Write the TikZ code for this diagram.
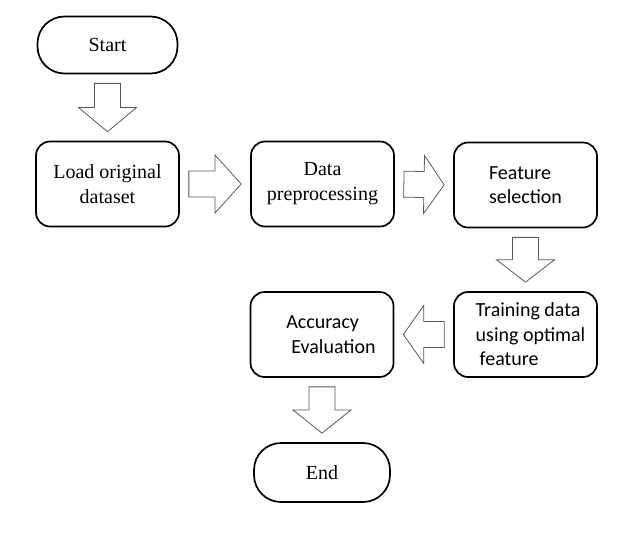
\documentclass[tikz,border=0pt]{standalone}
\usepackage{fontspec}
\setmainfont{Liberation Serif}
\newfontfamily\calibrifont{Carlito}
\usetikzlibrary{calc}

\newcommand{\BlockArrow}[2]{%
	\path (#1) coordinate (ba-s) (#2) coordinate (ba-e);
	\path ($(ba-s)!9pt!(ba-e)$) coordinate (ba-a) ($(ba-e)!9pt!(ba-s)$) coordinate (ba-t);
	\path ($(ba-a)!0.5!(ba-t)$) coordinate (ba-m);
	\draw [Hollow] ($(ba-a)!13pt!90:(ba-t)$) -- ($(ba-m)!13pt!90:(ba-t)$) -- ($(ba-m)!29pt!90:(ba-t)$) -- (ba-t)
		-- ($(ba-m)!29pt!-90:(ba-t)$) -- ($(ba-m)!13pt!-90:(ba-t)$) -- ($(ba-a)!13pt!-90:(ba-t)$) -- cycle;
}

\begin{document}
\begin{tikzpicture}[x=1pt, y=-1pt]
			\tikzstyle{Box}		= [draw, line width=1.7pt, align=center, font=\fontsize{20}{25}\selectfont]
			\tikzstyle{Terminal}	= [Box, rounded corners=27pt, minimum width=140pt, minimum height=57pt]
			\tikzstyle{Process}	= [Box, rounded corners=14pt, minimum width=143pt, minimum height=85pt]
			\tikzstyle{Sans}	= [font=\fontsize{20}{24.5}\selectfont\calibrifont, align=left]
			\tikzstyle{Hollow}	= [draw=black!65, line width=0.8pt, line join=miter, fill=white]
			
			\useasboundingbox (0,0) rectangle (620,544);
			
			\node (start) at (107.5,45) [Terminal] {Start};
			\node (load) at (107.5,184) [Process] {Load original\\dataset};
			\node (prep) at (322.5,184) [Process] {Data\\preprocessing};
			\node (select) at (525.5,185) [Process][Sans] {Feature\\selection};
			\node (train) at (525.5,334.5) [Process][Sans] {\hspace{10pt}Training data\\\hspace{10pt}using optimal\\\hspace{14pt}feature};
			\node (eval) at (322,334.5) [Process][Sans] {\hspace{18pt}Accuracy\\\hspace{23pt}Evaluation};
			\node (finish) at (322,472.5) [Terminal, minimum width=136pt, minimum height=59pt] {End};
			
			\BlockArrow{start.south}{load.north}
			\BlockArrow{load.east}{prep.west}
			\BlockArrow{prep.east}{select.west}
			\BlockArrow{select.south}{train.north}
			\BlockArrow{train.west}{eval.east}
			\BlockArrow{eval.south}{finish.north}
		\end{tikzpicture}
\end{document}
